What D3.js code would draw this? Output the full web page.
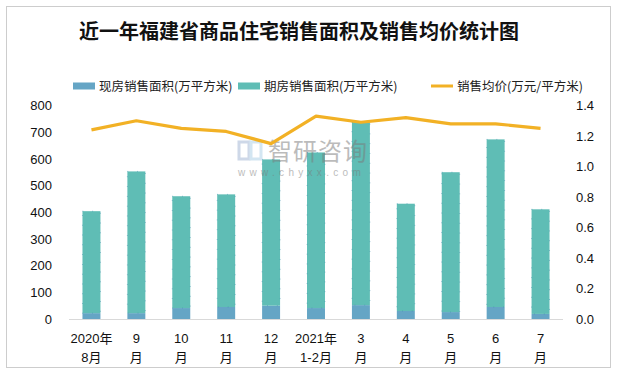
<!DOCTYPE html>
<html>
<head>
<meta charset="utf-8">
<script src="https://cdn.jsdelivr.net/npm/d3@7"></script>
<style>
  body { margin: 0; background: #fff; }
  text { font-family: "Liberation Sans", Arial, "Noto Sans CJK SC", sans-serif; }
</style>
</head>
<body>
<svg id="chart" width="617" height="372"></svg>
<script>
// data
const months = ["2020年|8月", "9|月", "10|月", "11|月", "12|月", "2021年|1-2月", "3|月", "4|月", "5|月", "6|月", "7|月"];
const xianfang = [22, 22, 41, 45, 50, 41, 52, 30, 26, 45, 19];
const qifang = [382, 531, 419, 422, 548, 583, 686, 402, 524, 628, 392];
const price = [1.24, 1.30, 1.25, 1.23, 1.15, 1.33, 1.29, 1.32, 1.28, 1.28, 1.25];
const leftTicks = [0, 100, 200, 300, 400, 500, 600, 700, 800];
const rightTicks = [0, 0.2, 0.4, 0.6, 0.8, 1.0, 1.2, 1.4];

const colors = { xian: "#65a5c5", qi: "#5fbdb5", line: "#f2b125" };

const svg = d3.select("#chart");
const cjk = "'Noto Sans CJK SC', sans-serif";

// outer border
svg.append("rect")
    .attr("x", 6.5).attr("y", 6.5)
    .attr("width", 604).attr("height", 361)
    .attr("fill", "none")
    .attr("stroke", "#9a9a9a")
    .attr("stroke-dasharray", "1,1");

svg.append("text")
    .attr("x", 299).attr("y", 39)
    .attr("text-anchor", "middle")
    .style("font-family", cjk)
    .style("font-weight", "bold")
    .style("font-size", "20px")
    .attr("fill", "#111")
    .text("近一年福建省商品住宅销售面积及销售均价统计图");

const x = d3.scaleBand().domain(months).range([69, 563]).paddingInner(0.6).paddingOuter(0.3);
const yL = d3.scaleLinear().domain([0, 800]).range([319, 105.5]);
const yR = d3.scaleLinear().domain([0, 1.4]).range([319, 105.5]);

// axis baseline
svg.append("line")
    .attr("x1", 69).attr("x2", 563)
    .attr("y1", 319.5).attr("y2", 319.5)
    .attr("stroke", "#d9d9d9");

// stacked bars
const bars = svg.append("g").selectAll("g")
    .data(months)
    .join("g");

bars.append("rect")
    .attr("x", d => x(d))
    .attr("width", x.bandwidth())
    .attr("y", (d, i) => yL(xianfang[i]))
    .attr("height", (d, i) => yL(0) - yL(xianfang[i]))
    .attr("fill", colors.xian);

bars.append("rect")
    .attr("x", d => x(d))
    .attr("width", x.bandwidth())
    .attr("y", (d, i) => yL(xianfang[i] + qifang[i]))
    .attr("height", (d, i) => yL(xianfang[i]) - yL(xianfang[i] + qifang[i]))
    .attr("fill", colors.qi)
    .attr("stroke", "#3f8fb0")
    .attr("stroke-width", 0.6)
    .attr("stroke-dasharray", "0.8,9");

// watermark sits over the bars
const wm = svg.append("g").attr("opacity", 0.5);
wm.append("rect").attr("x", 239).attr("y", 142).attr("width", 10).attr("height", 17)
    .attr("fill", "none").attr("stroke", "#9fb3d3").attr("stroke-width", 3);
wm.append("rect").attr("x", 251).attr("y", 142).attr("width", 10).attr("height", 17)
    .attr("fill", "none").attr("stroke", "#a9cfe6").attr("stroke-width", 3);
wm.append("text").attr("x", 268).attr("y", 160)
    .style("font-family", cjk).style("font-size", "24px")
    .attr("fill", "#7a7a7a").attr("letter-spacing", "1px").text("智研咨询");
wm.append("text").attr("x", 238).attr("y", 176)
    .style("font-size", "10px").attr("fill", "#7a7a7a")
    .attr("letter-spacing", "4.3px").text("www.chyxx.com");

// price line
const line = d3.line()
    .x((d, i) => x(months[i]) + x.bandwidth() / 2)
    .y(d => yR(d));

svg.append("path")
    .datum(price)
    .attr("d", line)
    .attr("fill", "none")
    .attr("stroke", colors.line)
    .attr("stroke-width", 3.2)
    .attr("stroke-linejoin", "round");

// left axis
const axL = svg.append("g")
    .attr("transform", "translate(52,0)")
    .call(d3.axisLeft(yL).tickValues(leftTicks).tickSize(0).tickPadding(0));
axL.select(".domain").remove();
axL.selectAll("text").style("font-size", "13px").attr("fill", "#111")
    .style("font-family", "'Liberation Sans', Arial, sans-serif");

// right axis
const axR = svg.append("g")
    .attr("transform", "translate(576,0)")
    .call(d3.axisRight(yR).tickValues(rightTicks).tickFormat(d3.format(".1f")).tickSize(0).tickPadding(0));
axR.select(".domain").remove();
axR.selectAll("text").style("font-size", "13px").attr("fill", "#111")
    .style("font-family", "'Liberation Sans', Arial, sans-serif");

// x labels, two lines each
const xl = svg.append("g").selectAll("text")
    .data(months)
    .join("text")
    .attr("text-anchor", "middle")
    .attr("fill", "#111")
    .style("font-family", "'Liberation Sans', Arial, 'Noto Sans CJK SC', sans-serif")
    .style("font-size", "13px");
xl.append("tspan")
    .attr("x", d => x(d) + x.bandwidth() / 2)
    .attr("y", 343)
    .text(d => d.split("|")[0]);
xl.append("tspan")
    .attr("x", d => x(d) + x.bandwidth() / 2)
    .attr("y", 362)
    .text(d => d.split("|")[1]);

// legend
const legend = [
    { name: "现房销售面积(万平方米)", color: colors.xian, type: "rect", x: 73 },
    { name: "期房销售面积(万平方米)", color: colors.qi, type: "rect", x: 238 },
    { name: "销售均价(万元/平方米)", color: colors.line, type: "line", x: 431 }
];
const lg = svg.append("g").selectAll("g")
    .data(legend)
    .join("g")
    .attr("transform", d => `translate(${d.x},86)`);
lg.filter(d => d.type === "rect").append("rect")
    .attr("x", 0).attr("y", -3.5).attr("width", 22).attr("height", 7)
    .attr("fill", d => d.color);
lg.filter(d => d.type === "line").append("line")
    .attr("x1", 0).attr("x2", 22).attr("y1", 0).attr("y2", 0)
    .attr("stroke", d => d.color).attr("stroke-width", 3);
lg.append("text")
    .attr("x", 26).attr("y", 4.5)
    .style("font-family", cjk)
    .style("font-size", "12.5px")
    .attr("fill", "#222")
    .text(d => d.name);
</script>
</body>
</html>
